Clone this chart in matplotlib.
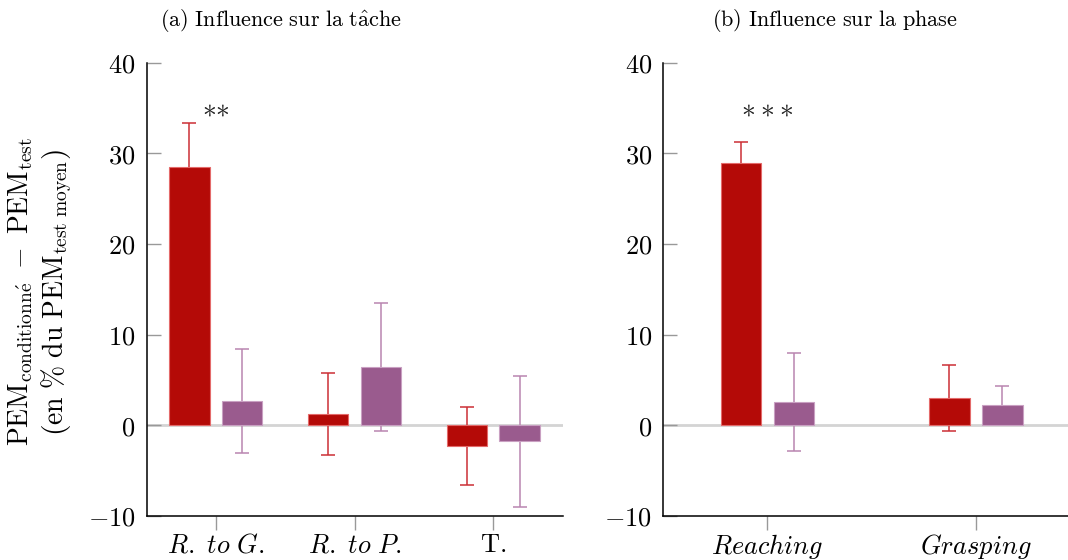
import matplotlib
matplotlib.use("Agg")
import matplotlib.pyplot as plt
import numpy as np

plt.rcParams['mathtext.fontset'] = 'cm'

# ---- data ----
task_labels = [r'$R.\ to\ G.$', r'$R.\ to\ P.$', r'$\mathrm{T.}$']
task_red = [28.5, 1.2, -2.3]
task_red_err = [4.8, 4.5, 4.3]
task_purple = [2.7, 6.4, -1.8]
task_purple_err = [5.75, 7.05, 7.2]

phase_labels = [r'$Reaching$', r'$Grasping$']
phase_red = [28.9, 3.0]
phase_red_err = [2.4, 3.6]
phase_purple = [2.55, 2.25]
phase_purple_err = [5.4, 2.1]

yticks = [-10, 0, 10, 20, 30, 40]
sig_task = r'${\ast}{\ast}$'
sig_phase = r'${\ast}\:{\ast}\:{\ast}$'
sig_y = 35.0

RED = '#b40a07'
RED_EDGE = '#e46a6a'
RED_ERR = '#cc2f35'
PURP = '#9a5b8e'
PURP_EDGE = '#c9a0c2'
PURP_ERR = '#b985b0'

fig = plt.figure(figsize=(10.68, 5.6), dpi=100)
axL = fig.add_axes([146.5/1068, 1-515.7/560, 416/1068, 453/560])
axR = fig.add_axes([663.3/1068, 1-515.7/560, 416.6/1068, 453/560])


def draw(ax, labels, red, red_err, purp, purp_err, width, off, xmax, sig):
    x = np.arange(len(labels))
    ax.axhline(0, color='#d4d4d4', lw=2.0, zorder=0)
    ax.errorbar(x - off, red, yerr=red_err, fmt='none', ecolor=RED_ERR,
                elinewidth=1.1, capsize=5, capthick=1.1, zorder=1)
    ax.errorbar(x + off, purp, yerr=purp_err, fmt='none', ecolor=PURP_ERR,
                elinewidth=1.1, capsize=5, capthick=1.1, zorder=1)
    ax.bar(x - off, red, width, color=RED, edgecolor=RED_EDGE, lw=0.8, zorder=2)
    ax.bar(x + off, purp, width, color=PURP, edgecolor=PURP_EDGE, lw=0.8, zorder=2)
    ax.set_xlim(-0.5, xmax)
    ax.set_ylim(-10, 40)
    ax.set_yticks(yticks, labels=[f'${v}$' for v in yticks])
    ax.set_xticks(x, labels=labels)
    for s in ['top', 'right']:
        ax.spines[s].set_visible(False)
    for s in ['left', 'bottom']:
        ax.spines[s].set_color('black')
        ax.spines[s].set_linewidth(1.1)
        ax.spines[s].set_zorder(4)
    ax.tick_params(axis='y', direction='in', length=10, width=1, color='#999999',
                   labelsize=19, pad=8)
    ax.tick_params(axis='x', direction='out', length=10, width=1, color='#999999',
                   labelsize=19, pad=2)
    ax.text(0, sig_y, sig, ha='center', va='center', fontsize=20, color='#222222')


draw(axL, task_labels, task_red, task_red_err, task_purple, task_purple_err,
     0.29, 0.19, 2.5, sig_task)
draw(axR, phase_labels, phase_red, phase_red_err, phase_purple, phase_purple_err,
     0.195, 0.127, 1.5, sig_phase)

fig.text(281.5/1068, 1-20.7/560, r'$\mathrm{(a)\ Influence\ sur\ la\ t\hat{a}che}$',
         ha='center', va='center', fontsize=16)
fig.text(834.7/1068, 1-20.7/560, r'$\mathrm{(b)\ Influence\ sur\ la\ phase}$',
         ha='center', va='center', fontsize=16)

ylab = (r'$\mathrm{PEM}_{\mathrm{conditionn\acute{e}}}\ -\ \mathrm{PEM}_{\mathrm{test}}$' + '\n'
        + r'$\left(\mathrm{en\ \%\ du\ PEM}_{\mathrm{test\ moyen}}\right)$')
fig.text(40/1068, 1-292/560, ylab, rotation=90, ha='center', va='center',
         fontsize=20, multialignment='center', linespacing=1.15)

fig.savefig('out.png', dpi=100)
